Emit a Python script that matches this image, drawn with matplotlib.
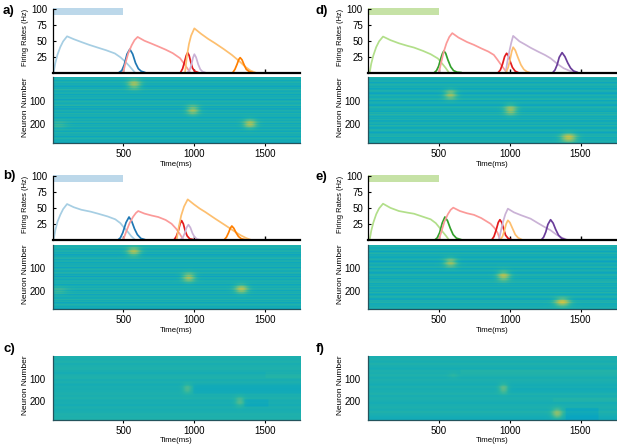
import numpy as np
import matplotlib
matplotlib.use("Agg")
import matplotlib.pyplot as plt
from matplotlib.colors import LinearSegmentedColormap
from matplotlib.patches import Rectangle

plt.rcParams['font.family'] = ['Liberation Sans', 'DejaVu Sans']

# ---------------- firing-rate curves: (time ms, rate Hz) ----------------
# panel a
a_lightblue = [(8,0),(20,15),(35,28),(55,40),(75,49),(103,57),(150,52.5),(204,48),(260,43.5),(323,39),(380,35),(441,30),(480,24),(510,18),(540,11),(583,0)]
a_darkblue = [(470,0),(490,3),(507,12),(527,29),(547,36.7),(567,29),(587,15),(607,6),(627,2),(655,0)]
a_pink = [(500,0),(515,14),(535,30),(560,43),(580,51),(602,56),(650,50),(700,45.5),(748,41),(800,36),(850,30.5),(902,22.5),(930,14),(955,6),(973,0)]
a_red = [(905,0),(920,6),(935,18),(946,27),(956,31.3),(966,27),(977,17),(990,7),(1005,2),(1030,0)]
a_lightorange = [(937,0),(950,25),(965,45),(980,58),(1003,69.5),(1050,61),(1100,53),(1150,46),(1210,37),(1268,27.7),(1320,18),(1363,9),(1400,3),(1434,0)]
a_lavender = [(955,0),(970,4),(982,12),(993,23),(1003,28.8),(1015,24),(1030,13),(1045,5),(1060,1.5),(1080,0)]
a_darkorange = [(1275,0),(1290,5),(1305,13),(1317,20.5),(1327,23.4),(1340,20),(1355,12),(1370,5),(1390,1.5),(1415,0)]

# panel b
b_lightblue = [(8,0),(20,15),(35,28),(55,39),(75,48),(103,56),(150,51),(204,47),(270,44),(323,40.8),(390,36.5),(444,32),(480,26),(502,20),(530,13),(555,6),(583,0)]
b_darkblue = [(465,0),(480,3),(497,11),(520,27),(541,35.6),(560,29),(580,17),(600,8),(625,2),(655,0)]
b_pink = [(500,0),(520,12),(545,26),(570,36),(590,42),(606,45),(650,41),(700,38),(748,35.6),(800,31),(842,25),(875,17),(900,9),(925,0)]
b_red = [(860,0),(875,5),(890,14),(902,25),(913,30),(925,25),(938,14),(952,6),(970,1.5),(1000,0)]
b_lightorange = [(878,0),(893,20),(910,38),(930,52),(956,63.3),(1000,55.5),(1040,49),(1080,43.5),(1150,33),(1222,22.6),(1280,14),(1330,7),(1370,2.5),(1400,0)]
b_lavender = [(905,0),(920,3),(935,10),(948,19),(961,23.6),(975,19),(990,10),(1005,4),(1022,1),(1043,0)]
b_darkorange = [(1215,0),(1230,4),(1245,11),(1257,18),(1268,21.5),(1282,18),(1298,11),(1315,5),(1335,1.5),(1363,0)]

# panel d
d_lightgreen = [(14,0),(25,14),(40,27),(60,40),(80,49),(108,56.6),(160,51),(220,46),(280,42),(326,39.3),(390,34),(444,28.8),(495,22),(525,14),(550,7),(572,0)]
d_darkgreen = [(470,0),(485,3),(500,10),(515,22),(527,30),(537,34),(550,30),(565,20),(585,9),(605,3),(630,0.5),(660,0)]
d_pink = [(502,0),(515,13),(535,32),(555,46),(575,56),(596,62),(640,55),(700,48),(749,43.5),(800,38),(850,33),(889,27.7),(915,20),(934,14),(960,6),(981,0)]
d_red = [(920,0),(935,4),(950,13),(965,25),(979,30.3),(992,26),(1005,17),(1020,8),(1040,2),(1060,0)]
d_lavender = [(972,0),(985,18),(1000,35),(1012,47),(1025,57.7),(1070,49),(1110,44),(1148,39),(1200,33),(1250,27.5),(1289,22.4),(1340,13),(1382,6.6),(1430,2),(1476,0)]
d_lightorange = [(975,0),(990,8),(1003,20),(1015,33),(1025,39.8),(1040,35),(1060,23),(1080,12),(1100,5),(1120,1.5),(1140,0)]
d_darkpurple = [(1305,0),(1320,4),(1335,12),(1350,24),(1370,31.3),(1390,25),(1410,15),(1430,7),(1450,2.5),(1480,0)]

# panel e
e_lightgreen = [(14,0),(25,14),(40,27),(60,40),(80,49),(108,56.5),(160,50),(220,45),(280,42.5),(326,40.8),(390,36),(444,32),(480,26),(502,20),(530,12),(552,6),(572,0)]
e_darkgreen = [(475,0),(490,3),(507,11),(525,26),(544,35.6),(562,30),(582,18),(602,8),(625,2.5),(660,0)]
e_pink = [(502,0),(520,13),(540,28),(565,40),(585,47),(603,50.3),(650,45),(700,41.5),(749,39),(800,34),(866,25),(895,18),(915,11),(934,0)]
e_red = [(875,0),(890,5),(905,15),(920,27),(932,31.4),(945,27),(958,17),(972,7),(990,2),(1015,0)]
e_lavender = [(925,0),(940,15),(955,29),(970,40),(988,48.7),(1030,43),(1080,38.5),(1148,33),(1200,26),(1250,19.5),(1289,14.8),(1330,8),(1370,3),(1406,0)]
e_lightorange = [(935,0),(950,5),(963,14),(976,25),(988,30.4),(1002,27),(1020,18),(1040,8),(1060,3),(1087,0)]
e_darkpurple = [(1225,0),(1240,4),(1255,12),(1270,24),(1289,31.4),(1307,26),(1325,16),(1345,7),(1365,2.5),(1394,0)]

stim_window = (0, 500)    # stimulus bar (ms)
stim_level = (91, 101.5)  # stimulus bar vertical span (Hz axis)

# ---------------- heat maps ----------------
n_neurons = 280
t_max = 1750
stripes_ab = [0.46,0.42,0.49,0.38,0.44,0.47,0.40,0.45,0.34,0.43,0.41,0.50,0.39,0.44,0.46,0.37,0.45,0.40,0.48,0.35,
              0.43,0.47,0.41,0.42,0.50,0.37,0.45,0.33,0.46,0.43,0.39,0.48,0.41,0.47,0.36,0.42,0.46,0.40,0.50,0.37,
              0.45,0.42,0.47,0.35,0.46,0.43,0.38,0.49,0.41,0.46,0.36,0.44,0.48,0.39,0.43,0.38]
stripes_de = [0.44,0.47,0.39,0.43,0.46,0.36,0.44,0.48,0.40,0.45,0.37,0.42,0.47,0.41,0.34,0.43,0.46,0.39,0.44,0.49,
              0.37,0.43,0.46,0.40,0.35,0.45,0.48,0.41,0.44,0.37,0.47,0.42,0.50,0.38,0.44,0.40,0.47,0.36,0.43,0.46,
              0.39,0.49,0.42,0.37,0.45,0.47,0.41,0.35,0.46,0.43,0.48,0.38,0.44,0.41,0.47,0.42]
stripes_c = [0.45,0.44,0.46,0.43,0.45,0.46,0.44,0.42,0.45,0.46,0.43,0.45,0.42,0.44,0.43,0.44,0.45,0.44,0.46,0.43,
             0.44,0.42,0.45,0.43,0.44,0.46,0.45,0.46]
stripes_f = [0.44,0.45,0.43,0.46,0.44,0.42,0.45,0.44,0.46,0.43,0.45,0.44,0.42,0.45,0.43,0.44,0.46,0.43,0.45,0.44,
             0.42,0.44,0.45,0.43,0.46,0.44,0.42,0.41]

# blobs: (time ms, neuron, amplitude, time spread ms, neuron spread)
blobs_a = [(573, 35, 0.27, 34, 14), (987, 143, 0.26, 32, 14), (1390, 200, 0.28, 33, 13), (40, 205, 0.08, 45, 12)]
blobs_b = [(570, 29, 0.27, 34, 14), (958, 142, 0.28, 32, 14), (1330, 193, 0.29, 33, 13), (40, 200, 0.08, 45, 12)]
blobs_d = [(580, 78, 0.26, 32, 14), (1002, 142, 0.26, 32, 15), (1411, 258, 0.33, 38, 13)]
blobs_e = [(580, 77, 0.26, 32, 14), (953, 136, 0.28, 32, 15), (1366, 250, 0.33, 38, 13)]
blobs_c = [(948, 143, 0.12, 24, 15), (1318, 200, 0.13, 24, 15)]
blobs_f = [(600, 85, 0.04, 25, 10), (953, 143, 0.15, 24, 15), (1330, 252, 0.22, 27, 16)]
# rectangles: (t0, t1, neuron0, neuron1, delta)
rects_ab = []
rects_c = [(990, 1750, 130, 165, -0.035), (1355, 1520, 190, 222, -0.035), (1500, 1750, 70, 95, 0.025)]
rects_f = [(985, 1750, 130, 165, -0.02), (1390, 1620, 228, 280, -0.05),
           (650, 1750, 60, 80, 0.025), (1300, 1750, 185, 200, 0.025)]

# ---------------- colours ----------------
LBLUE, DBLUE = '#a6cee3', '#1f78b4'
PINK, RED = '#fb9a99', '#e31a1c'
LORANGE, DORANGE = '#fdbf6f', '#ff7f00'
LPURPLE, DPURPLE = '#cab2d6', '#6a3d9a'
LGREEN, DGREEN = '#b2df8a', '#33a02c'

parula = LinearSegmentedColormap.from_list('parula', [
    (0.00, (0.2081, 0.1663, 0.5292)),
    (0.11, (0.0117, 0.3875, 0.8820)),
    (0.24, (0.0641, 0.5570, 0.8240)),
    (0.37, (0.0383, 0.6510, 0.7540)),
    (0.49, (0.1540, 0.7083, 0.6438)),
    (0.62, (0.4420, 0.7480, 0.5030)),
    (0.75, (0.7450, 0.7600, 0.3000)),
    (0.87, (0.9500, 0.7800, 0.2200)),
    (1.00, (0.9763, 0.9831, 0.0538)),
])

W, H = 617, 448
fig = plt.figure(figsize=(W / 100, H / 100), dpi=100)


def px_axes(x0, y0, x1, y1):
    return fig.add_axes([x0 / W, 1 - y1 / H, (x1 - x0) / W, (y1 - y0) / H])


TICK_FS = 7.0


def firing_panel(rect, curves, barcolor):
    ax = px_axes(*rect)
    for pts, col in curves:
        t, r = np.array(pts, dtype=float).T
        ax.plot(t, r, color=col, lw=1.25, solid_capstyle='round', solid_joinstyle='round', zorder=2)
    ax.add_patch(Rectangle((stim_window[0], stim_level[0]), stim_window[1] - stim_window[0],
                           stim_level[1] - stim_level[0], facecolor=barcolor, edgecolor='none',
                           clip_on=False, zorder=1))
    ax.set_xlim(0, t_max)
    ax.set_ylim(0, 100)
    for s in ('top', 'right'):
        ax.spines[s].set_visible(False)
    ax.spines['left'].set_linewidth(0.9)
    ax.spines['bottom'].set_linewidth(1.6)
    ax.set_yticks([25, 50, 75, 100])
    ax.set_xticks([500, 1000, 1500])
    ax.tick_params(axis='y', direction='in', length=2.5, width=0.8, labelsize=TICK_FS, pad=3.5)
    ax.tick_params(axis='x', direction='in', length=3, width=1.0, labelbottom=False)
    ax.set_ylabel('Firing Rates (Hz)', fontsize=5.4)
    ax.yaxis.set_label_coords(-0.095, 0.55)
    ax.patch.set_alpha(0)
    return ax


times = np.arange(0, t_max, 10) + 5.0
neurons = np.arange(1, n_neurons + 1, dtype=float)


def heat_panel(rect, stripes, blobs, rects):
    ax = px_axes(*rect)
    rep = n_neurons // len(stripes)
    data = np.repeat(np.asarray(stripes, dtype=float), rep)[:, None] * np.ones(len(times))[None, :]
    for tc, nc, amp, ts, ns in blobs:
        data += amp * np.exp(-0.5 * ((times[None, :] - tc) / ts) ** 2 - 0.5 * ((neurons[:, None] - nc) / ns) ** 2)
    for t0, t1, n0, n1, d in rects:
        m = ((times >= t0) & (times < t1))[None, :] & ((neurons >= n0) & (neurons <= n1))[:, None]
        data[m] += d
    ax.imshow(data, cmap=parula, vmin=0, vmax=1, aspect='auto',
              extent=(0, t_max, n_neurons, 0), interpolation='bilinear')
    ax.set_xlim(0, t_max)
    ax.set_ylim(n_neurons, 0)
    for s in ('top', 'right'):
        ax.spines[s].set_visible(False)
    for s in ('left', 'bottom'):
        ax.spines[s].set_color('#24535c')
        ax.spines[s].set_linewidth(0.9)
    ax.set_xticks([500, 1000, 1500])
    ax.set_yticks([100, 200])
    ax.tick_params(axis='x', direction='out', length=2.5, width=0.8, labelsize=TICK_FS, pad=2)
    ax.tick_params(axis='y', length=0, labelsize=TICK_FS, pad=5)
    ax.set_xlabel('Time(ms)', fontsize=5.6, labelpad=1.2)
    ax.set_ylabel('Neuron Number', fontsize=6.0)
    ax.yaxis.set_label_coords(-0.095, 0.54)
    return ax


L = (52.5, 300)
R = (367.7, 616)

firing_panel((L[0], 9, L[1], 72.5),
             [(a_lightblue, LBLUE), (a_darkblue, DBLUE), (a_pink, PINK), (a_red, RED),
              (a_lightorange, LORANGE), (a_lavender, LPURPLE), (a_darkorange, DORANGE)], '#bcd8ea')
heat_panel((L[0], 77, L[1], 143), stripes_ab, blobs_a, rects_ab)

firing_panel((L[0], 176, L[1], 239.7),
             [(b_lightblue, LBLUE), (b_darkblue, DBLUE), (b_pink, PINK), (b_red, RED),
              (b_lightorange, LORANGE), (b_lavender, LPURPLE), (b_darkorange, DORANGE)], '#bcd8ea')
heat_panel((L[0], 245, L[1], 309), stripes_ab, blobs_b, rects_ab)

heat_panel((L[0], 356, L[1], 419.5), stripes_c, blobs_c, rects_c)

firing_panel((R[0], 9, R[1], 72.5),
             [(d_lightgreen, LGREEN), (d_darkgreen, DGREEN), (d_pink, PINK), (d_red, RED),
              (d_lavender, LPURPLE), (d_lightorange, LORANGE), (d_darkpurple, DPURPLE)], '#c6e2a6')
heat_panel((R[0], 77, R[1], 143), stripes_de, blobs_d, rects_ab)

firing_panel((R[0], 176, R[1], 239.7),
             [(e_lightgreen, LGREEN), (e_darkgreen, DGREEN), (e_pink, PINK), (e_red, RED),
              (e_lavender, LPURPLE), (e_lightorange, LORANGE), (e_darkpurple, DPURPLE)], '#c6e2a6')
heat_panel((R[0], 245, R[1], 309), stripes_de, blobs_e, rects_ab)

heat_panel((R[0], 356, R[1], 419.5), stripes_f, blobs_f, rects_f)

for lab, x, y in [('a)', 3, 11), ('b)', 3, 176), ('c)', 3, 349),
                  ('d)', 316, 11), ('e)', 316, 177), ('f)', 316, 349)]:
    fig.text(x / W, 1 - y / H, lab, fontsize=9.5, fontweight='bold', va='center', ha='left')

fig.savefig('out.png', dpi=100)
